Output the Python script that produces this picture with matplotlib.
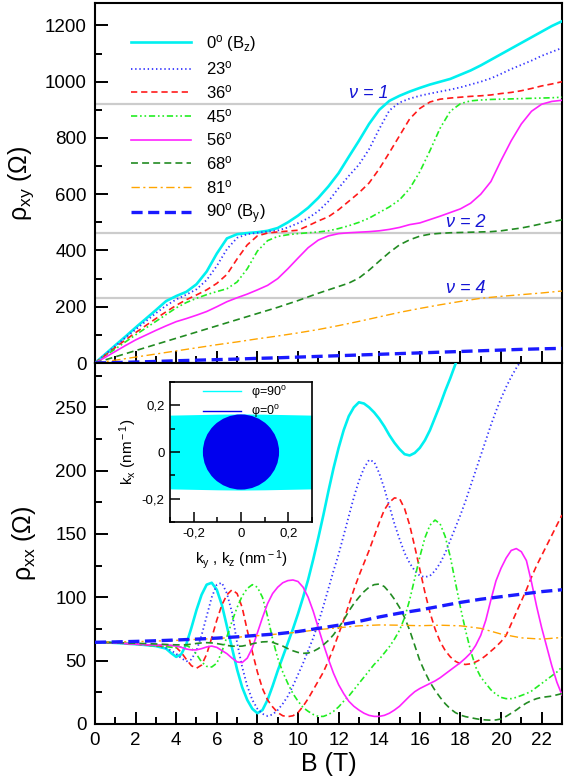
import numpy as np
import matplotlib
matplotlib.use('Agg')
import matplotlib.pyplot as plt
from matplotlib.patches import Circle
from matplotlib.ticker import MultipleLocator, FuncFormatter

plt.rcParams['font.family'] = ['Liberation Sans', 'DejaVu Sans']
plt.rcParams['mathtext.fontset'] = 'custom'
plt.rcParams['mathtext.rm'] = 'Liberation Sans'
plt.rcParams['mathtext.it'] = 'Liberation Sans:italic'
plt.rcParams['mathtext.bf'] = 'Liberation Sans:bold'
plt.rcParams['lines.scale_dashes'] = False

# ---------------- data ----------------
angles = ['0', '23', '36', '45', '56', '68', '81', '90']
legend_labels = [r'0$^{\rm o}$ (B$_{\rm z}$)', r'23$^{\rm o}$', r'36$^{\rm o}$', r'45$^{\rm o}$',
                 r'56$^{\rm o}$', r'68$^{\rm o}$', r'81$^{\rm o}$', r'90$^{\rm o}$ (B$_{\rm y}$)']

# B grids (T)
B_xy = np.linspace(0, 23, 47)      # 0.5 T steps
B_xx = np.linspace(0, 23, 93)      # 0.25 T steps
B_int = np.arange(0, 24)           # 1 T steps

# quantized plateaus rho_xy (Ohm)
plateaus = [922.0, 461.0, 230.5]
plateau_labels = ['ν = 1', 'ν = 2', 'ν = 4']
plateau_label_pos = [(12.5, 957), (17.3, 500), (17.3, 266)]

# rho_xy (Ohm) on B_xy grid (two values per tesla)
rxy_0 = [0, 31, 63, 94, 126, 157, 188, 220, 238, 253, 280, 325, 389, 443, 458, 462,
         465, 470, 480, 500, 524, 552, 587, 628, 675, 733, 790, 850, 900, 932, 950, 965,
         978, 990, 1000, 1010, 1025, 1040, 1058, 1078, 1098, 1118, 1138, 1158, 1178, 1198,
         1215]
rxy_23 = [0, 30, 60, 90, 119, 148, 177, 204, 226, 243, 262, 295, 345, 405, 445, 458,
          463, 467, 471, 482, 497, 515, 540, 575, 622, 665, 705, 760, 832, 898, 926, 940,
          950, 958, 965, 972, 980, 990, 1000, 1012, 1028, 1045, 1060, 1075, 1092, 1106,
          1120]
rxy_36 = [0, 27, 55, 82, 108, 133, 158, 182, 205, 225, 242, 260, 283, 315, 370, 420,
          452, 462, 466, 469, 472, 488, 505, 520, 545, 575, 605, 640, 690, 748, 808, 868,
          905, 928, 938, 942, 945, 948, 950, 953, 958, 962, 968, 976, 985, 992,
          1000]
rxy_45 = [0, 25, 50, 75, 100, 124, 148, 172, 196, 215, 230, 243, 254, 264, 288, 335,
          398, 435, 450, 456, 460, 463, 466, 470, 478, 488, 500, 515, 535, 555, 580, 620,
          680, 755, 835, 895, 922, 932, 935, 937, 938, 939, 940, 941, 942, 943,
          945]
rxy_56 = [0, 20, 41, 62, 82, 99, 116, 132, 147, 158, 170, 183, 200, 218, 232, 245,
          260, 276, 300, 335, 373, 410, 437, 452, 460, 463, 465, 467, 470, 475, 482, 492,
          498, 510, 522, 535, 548, 568, 600, 645, 720, 790, 850, 895, 920, 930,
          934]
rxy_68 = [0, 11, 22, 33, 44, 55, 66, 77, 88, 99, 110, 121, 132, 143, 154, 165,
          176, 187, 198, 210, 222, 235, 248, 260, 272, 284, 302, 330, 362, 393, 420, 438,
          451, 458, 461, 463, 464, 465, 466, 467, 470, 475, 480, 487, 495, 502,
          509]
# on B_int grid
rxy_81 = [0, 10, 21, 32, 43, 54, 65, 75, 86, 96, 107, 119, 133, 148, 164, 180,
          194, 207, 219, 230, 237, 243, 249, 256]
rxy_90 = [0, 1.5, 3.5, 5.5, 8, 10, 12, 14, 16.5, 18.5, 21, 23.5, 26, 28.5, 31, 33.5,
          36, 38.5, 41, 43.5, 46, 48.5, 50.5, 52]

nan = np.nan
# rho_xx (Ohm) on B_xx grid (four values per tesla)
rxx_0 = [64.5, 64.5, 64.4, 64.2,   64.0, 63.8, 63.5, 63.2,   63.0, 62.7, 62.3, 62.0,
         61.5, 60.5, 59.5, 56.0,   53.0, 55.0, 63.0, 76.0,   90.0, 102, 110, 111.5,
         106, 94, 77, 60,          43, 29, 19, 12,           8.5, 11, 19, 30,
         42, 53, 64, 75,           87, 100, 114, 130,        147, 165, 184, 202,
         218, 232, 243, 250,       254, 253, 250, 246,       241, 235, 228, 222,
         217, 213, 212, 214,       218, 224, 232, 242,       252, 263, 273, 284,
         295, nan, nan, nan,       nan, nan, nan, nan,       nan, nan, nan, nan,
         nan, nan, nan, nan,       nan, nan, nan, nan,       nan]
rxx_23 = [64.5, 64.5, 64.4, 64.2,  64.0, 63.8, 63.6, 63.4,   63.2, 63.0, 62.7, 62.4,
          62.0, 61.2, 60.0, 58.0,  55.5, 52.0, 49.5, 51.0,   58, 70, 85, 100,
          110, 111.5, 103, 88,     64, 45, 30, 19,           12, 8, 6.3, 7.5,
          11, 16, 22, 30,          39, 48, 58, 68,           80, 93, 107, 121,
          134, 149, 164, 179,      192, 202, 208.5, 207,     198, 186, 172, 158,
          146, 135, 127, 121,      117, 116, 117, 121,       127, 135, 145, 155,
          165, 176, 188, 200,      212, 224, 236, 247,       257, 266, 274, 281,
          287, 293, nan, nan,      nan, nan, nan, nan,       nan]
rxx_36 = [64.5, 64.5, 64.4, 64.2,  64.0, 63.8, 63.6, 63.3,   63.0, 62.7, 62.4, 62.0,
          61.8, 61.5, 61.5, 62.0,  60.5, 56.5, 51, 46,       44, 46.5, 55, 68,
          82, 94, 102, 106,        103, 92, 74, 57,          41, 28, 19, 13.5,
          9, 6.5, 5.8, 6.5,        9, 14, 20, 27,            34, 41, 50, 60,
          71, 82, 94, 106,         117, 127, 137, 148,       159, 169, 175, 178.5,
          178, 170, 157, 140,      122, 104, 88, 75,         65, 58, 53, 49.5,
          47.5, 47, 47.5, 49,      51, 54, 57.5, 61,         65, 70, 79, 88,
          97, 106, 116, 125,       133, 141, 149, 157,       165]
rxx_45 = [64.5, 64.5, 64.4, 64.2,  64.0, 63.8, 63.5, 63.2,   63.0, 62.7, 62.4, 62.0,
          61.7, 61.3, 61.0, 60.6,  60.2, 60.8, 62.0, 60.0,   55, 49, 45.5, 45,
          48, 57, 69, 81,          92, 101, 107, 110,        108, 100, 85, 67,
          52, 41, 32, 24,          18, 13, 10, 7.5,          6, 6, 7.5, 10,
          13.5, 18, 22, 27,        32, 37, 42, 47,           51, 56, 61, 67,
          74, 84, 98, 115,         132, 147, 157, 161,       158, 148, 132, 112,
          92, 74, 58, 45,          37, 32, 27, 23.5,         21, 20, 20, 21,
          22.5, 24, 26, 29,        32, 35, 38, 41,           45]
rxx_56 = [64.5, 64.5, 64.4, 64.2,  64.0, 63.8, 63.5, 63.2,   63.0, 62.8, 62.6, 62.4,
          62.3, 62.5, 62.6, 62.0,  61.5, 60.5, 59.2, 58.5,   58.5, 59.5, 60.8, 61.5,
          60.5, 58, 55.5, 52,      49, 48.5, 52, 60,         72, 84, 95, 103,
          108, 111.5, 113.2, 113.7, 112.5, 108, 100, 89,     76, 63, 51, 40,
          31, 24, 18, 14,          11, 8.5, 6.8, 6,          6, 6.8, 8.5, 11,
          14, 18, 22, 25.5,        28, 30, 32, 34,           36.5, 39.5, 42.5, 45.5,
          48.5, 52, 56, 62,        70, 82, 98, 113,          123, 131, 137, 138.5,
          136, 129, 112, 93,       76, 61, 46, 33,           23]
rxx_68 = [64.5, 64.5, 64.4, 64.3,  64.2, 64.1, 64.0, 63.8,   63.7, 63.6, 63.5, 63.3,
          63.2, 63.0, 62.8, 62.6,  62.5, 62.4, 62.6, 63.0,   63.6, 64.0, 64.2, 64.0,
          63.5, 62.8, 62.0, 61.5,  61.3, 61.5, 62.3, 63.3,   64.2, 64.8, 65, 64.4,
          63, 61.5, 59.5, 57.8,    56.5, 55.8, 56, 57.3,     59.5, 62.5, 66, 70.5,
          76, 82, 89, 95,          100, 104.5, 108, 110,     110.5, 108.5, 104, 98.5,
          92, 84, 74, 62,          50, 41, 33, 26.5,         21, 16, 12, 9,
          7, 5.8, 5, 4.2,          3.5, 3.2, 3, 3.2,         4, 6, 8.5, 11,
          14, 16.5, 18.5, 20,      21, 21.5, 22, 23,         24]
# on B_int grid
rxx_81 = [64.5, 64.8, 65, 65.5, 66, 66.8, 67.5, 68.5, 69.7, 71, 72.5, 74.5,
          76, 77.5, 78.2, 78, 77.6, 78, 77.5, 75.5, 71, 68, 67, 68.3]
rxx_90 = [64.5, 64.8, 65.2, 65.7, 66.3, 67, 67.8, 68.8, 70, 71.2, 73, 75.5,
          78, 81, 84.5, 87.5, 90, 93, 96, 98.5, 100.5, 102.5, 104.5, 106]

# inset: Fermi contours (nm^-1)
kz_band = [-0.3, -0.2, -0.1, 0.0, 0.1, 0.2, 0.3]
band_half = [0.158, 0.160, 0.162, 0.163, 0.162, 0.160, 0.158]
kF = 0.161

# ---------------- styles ----------------
styles = [
    dict(color='#00f0f0', ls='-', lw=1.9),
    dict(color='#3535ff', ls=(0, (1.0, 2.0)), lw=1.3),
    dict(color='#ff1a1a', ls=(0, (4.5, 2.8)), lw=1.2),
    dict(color='#22ee22', ls=(0, (4.5, 2.0, 1.2, 2.0, 1.2, 2.0)), lw=1.2),
    dict(color='#ff22ff', ls='-', lw=1.2),
    dict(color='#228b22', ls=(0, (5, 3)), lw=1.2),
    dict(color='#ffa500', ls=(0, (6, 2.5, 1.5, 2.5)), lw=1.0),
    dict(color='#1a1aff', ls=(0, (8, 4)), lw=2.4),
]

rxy_all = [(B_xy, rxy_0), (B_xy, rxy_23), (B_xy, rxy_36), (B_xy, rxy_45),
           (B_xy, rxy_56), (B_xy, rxy_68), (B_int, rxy_81), (B_int, rxy_90)]
rxx_all = [(B_xx, rxx_0), (B_xx, rxx_23), (B_xx, rxx_36), (B_xx, rxx_45),
           (B_xx, rxx_56), (B_xx, rxx_68), (B_int, rxx_81), (B_int, rxx_90)]

# ---------------- figure ----------------
fig = plt.figure(figsize=(5.67, 7.81), dpi=100)
ax1 = fig.add_axes([0.1675, 0.5352, 0.8236, 0.461])
ax2 = fig.add_axes([0.1675, 0.073, 0.8236, 0.4622])

for ax in (ax1, ax2):
    ax.set_xlim(0, 23)
    ax.xaxis.set_major_locator(MultipleLocator(2))
    ax.xaxis.set_minor_locator(MultipleLocator(1))
    ax.tick_params(which='both', direction='in', top=False, right=False, width=1.4,
                   labelsize=13.5, pad=6)
    ax.tick_params(which='major', length=9)
    ax.tick_params(which='minor', length=5)
    for s in ax.spines.values():
        s.set_linewidth(1.5)

# top panel
for p in plateaus:
    ax1.axhline(p, color='#cccccc', lw=1.6, zorder=1)
for (lab, (x, y)) in zip(plateau_labels, plateau_label_pos):
    ax1.text(x, y, lab, color='#1515d5', fontstyle='italic', fontsize=13, va='center')
for (B, r), st, lab in zip(rxy_all, styles, legend_labels):
    ax1.plot(B, r, label=lab, zorder=3, **st)
ax1.set_ylim(0, 1280)
ax1.yaxis.set_major_locator(MultipleLocator(200))
ax1.yaxis.set_minor_locator(MultipleLocator(100))
ax1.tick_params(labelbottom=False)
ax1.set_ylabel('ρ$_{\\rm xy}$ (Ω)', fontsize=18, labelpad=6)
ax1.legend(loc='upper left', bbox_to_anchor=(0.077, 0.917), frameon=False, fontsize=12,
           handlelength=3.6, handletextpad=0.9, labelspacing=0.34, borderaxespad=0, borderpad=0)

# bottom panel
for (B, r), st in zip(rxx_all, styles):
    ax2.plot(B, r, zorder=3, **st)
ax2.set_ylim(0, 285)
ax2.yaxis.set_major_locator(MultipleLocator(50))
ax2.yaxis.set_minor_locator(MultipleLocator(25))
ax2.set_ylabel('ρ$_{\\rm xx}$ (Ω)', fontsize=18, labelpad=12)
ax2.set_xlabel('B (T)', fontsize=18, labelpad=2)

# inset
axi = fig.add_axes([0.2998, 0.3316, 0.2504, 0.1793])
axi.set_xlim(-0.3, 0.3)
axi.set_ylim(-0.3, 0.3)
axi.fill_between(kz_band, [-h for h in band_half], band_half, color='#00ffff', lw=0, zorder=1)
axi.add_patch(Circle((0, 0), kF, color='#0000ee', lw=0, zorder=2))
axi.plot([], [], color='#00ffff', lw=1.0, label='φ=90$^{\\rm o}$')
axi.plot([], [], color='#0000ee', lw=1.0, label='φ=0$^{\\rm o}$')
axi.legend(loc='upper left', bbox_to_anchor=(0.22, 1.0), frameon=False, fontsize=9,
           handlelength=3.0, handletextpad=0.8, labelspacing=0.2, borderaxespad=0.05,
           borderpad=0.1)
fmt = FuncFormatter(lambda v, p: ('%g' % round(v, 2)).replace('.', ','))
for a in (axi.xaxis, axi.yaxis):
    a.set_major_locator(MultipleLocator(0.2))
    a.set_minor_locator(MultipleLocator(0.1))
    a.set_major_formatter(fmt)
axi.tick_params(which='both', direction='in', top=False, right=False, width=1.1,
                labelsize=9.5, pad=4)
axi.tick_params(which='major', length=7)
axi.tick_params(which='minor', length=3.5)
for s in axi.spines.values():
    s.set_linewidth(1.2)
axi.set_xlabel('k$_{\\rm y}$ , k$_{\\rm z}$ (nm$^{\\rm -1}$)', fontsize=11, labelpad=6)
axi.set_ylabel('k$_{\\rm x}$ (nm$^{\\rm -1}$)', fontsize=11, labelpad=2)

fig.savefig('out.png', dpi=100)
